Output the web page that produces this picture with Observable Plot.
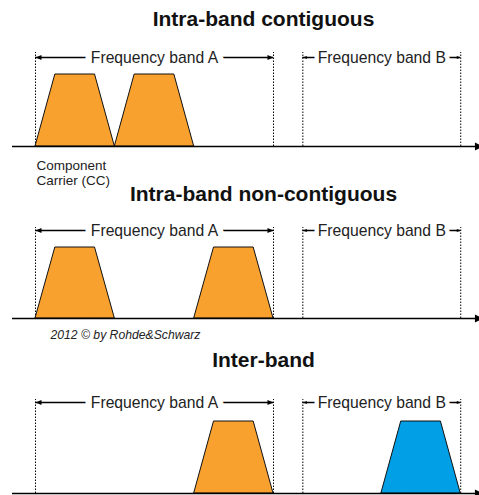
<!DOCTYPE html>
<html><head><meta charset="utf-8">
<script src="https://cdn.jsdelivr.net/npm/d3@7"></script>
<script src="https://cdn.jsdelivr.net/npm/@observablehq/plot@0.6"></script>
<style>
html,body{margin:0;padding:0;background:#fff;}
#chart{position:relative;width:479px;height:495px;background:#fff;}
</style></head><body><div id="chart"></div>
<script>
// ---- data (frequency unit = one component-carrier bandwidth) ----
const panelTitles = ["Intra-band contiguous", "Intra-band non-contiguous", "Inter-band"];
const bandIds = ["A", "B"];
const bandNames = ["Frequency band A", "Frequency band B"];
const bandStarts = [0, 3.37];
const bandEnds = [3, 5.36];
const carrierPanels = [0, 0, 1, 1, 2, 2];
const carrierStarts = [0, 1, 0, 2, 2, 4.36];
const carrierBands = ["A", "A", "A", "A", "A", "B"];
const carrierWidth = 1;
const carrierShapeX = [0, 0.25, 0.75, 1];   // fraction of carrier width
const carrierShapeY = [0, 1, 1, 0];         // relative amplitude
const ccLabel = "Component\nCarrier (CC)";
const creditLabel = "2012 © by Rohde&Schwarz";
const axisStart = -0.29, axisEnd = 5.64;

// ---- layout (pixels) ----
const W = 479;
const U = 238 / 3; // px per frequency unit
const xDomain = [-35 / U, (W - 35) / U];
const layout = [
  {top: 0,   height: 190, axisY: 146, peakY: 74,  titleY: 19,  arrowY: 57,  dotY: 52},
  {top: 190, height: 155, axisY: 318, peakY: 247, titleY: 194, arrowY: 230, dotY: 227},
  {top: 345, height: 150, axisY: 493, peakY: 421, titleY: 359.5, arrowY: 402, dotY: 399}
];
const headLen = [6, 4];
const haloW = [13, 9];
const colors = {A: "#F9A12F", B: "#009FE6"};
const font = "'Liberation Sans', Arial, Helvetica, sans-serif";

function makeHead(ratio) {
  return {draw(ctx, size) {
    const l = Math.sqrt(size / Math.PI);
    ctx.moveTo(0, 0); ctx.lineTo(-l, -l * ratio); ctx.lineTo(-l, l * ratio); ctx.closePath();
  }};
}

const chart = document.getElementById("chart");

layout.forEach((L, p) => {
  const toUnit = px => (L.axisY - px) / (L.axisY - L.peakY);
  const arrowLevel = toUnit(L.arrowY);
  const dotLevel = toUnit(L.dotY);
  const carriers = carrierStarts.map((s, i) => i).filter(i => carrierPanels[i] === p);
  const pts = carriers.flatMap(i => carrierShapeX.map((f, k) => ({
    id: i, band: carrierBands[i],
    x: carrierStarts[i] + f * carrierWidth, y: carrierShapeY[k]
  })));
  const edges = [...bandStarts, ...bandEnds];
  const marks = [
    Plot.ruleX(edges, {x: d => d, y1: 0, y2: dotLevel, stroke: "#000", strokeWidth: 1, strokeDasharray: "1.5,1.5"}),
    Plot.ruleY([0, 1], {y: arrowLevel, x1: i => bandStarts[i], x2: i => bandEnds[i], stroke: "#000", strokeWidth: 1.3}),
  ];
  bandIds.forEach((b, i) => {
    marks.push(Plot.text([i], {
      x: j => (bandStarts[j] + bandEnds[j]) / 2, y: arrowLevel, text: j => bandNames[j],
      fontSize: 15.7, fill: "#222", stroke: "white", strokeWidth: haloW[i], paintOrder: "stroke", lineAnchor: "middle"
    }));
    marks.push(Plot.dot([i], {x: j => bandStarts[j], y: arrowLevel, symbol: makeHead(0.4), r: headLen[i], rotate: 180, fill: "#000", stroke: "none"}));
    marks.push(Plot.dot([i], {x: j => bandEnds[j], y: arrowLevel, symbol: makeHead(0.4), r: headLen[i], rotate: 0, fill: "#000", stroke: "none"}));
  });
  marks.push(
    Plot.areaY(pts, {x: "x", y: "y", z: "id", fill: "band", stroke: "#111", strokeWidth: 1, curve: "linear"}),
    Plot.ruleY([0], {x1: axisStart, x2: axisEnd, stroke: "#000", strokeWidth: 1.7}),
    Plot.dot([axisEnd], {x: d => d, y: 0, symbol: makeHead(0.5), r: 8, fill: "#000", stroke: "none"}),
    Plot.text([panelTitles[p]], {
      frameAnchor: "top", dx: 263 - W / 2, dy: L.titleY - L.peakY, text: d => d,
      fontSize: 21, fontWeight: "bold", fill: "#111", lineAnchor: "middle"
    })
  );
  if (p === 0) {
    marks.push(Plot.text([ccLabel], {x: carrierStarts[0], y: 0, text: d => d, textAnchor: "start", lineAnchor: "top",
      dx: 1, dy: 12, fontSize: 13.5, lineHeight: 1.16, fill: "#222"}));
  }
  if (p === 1) {
    marks.push(Plot.text([creditLabel], {x: carrierStarts[2], y: 0, text: d => d, textAnchor: "start", lineAnchor: "top",
      dx: 15, dy: 12, fontSize: 12.2, fontStyle: "italic", fill: "#222"}));
  }
  const svg = Plot.plot({
    width: W, height: L.height,
    marginLeft: 0, marginRight: 0,
    marginTop: L.peakY - L.top, marginBottom: L.top + L.height - L.axisY,
    x: {domain: xDomain, axis: null},
    y: {domain: [0, 1], axis: null},
    color: {domain: bandIds, range: bandIds.map(b => colors[b])},
    style: {position: "absolute", left: "0px", top: L.top + "px", overflow: "visible", background: "transparent", fontFamily: font},
    marks
  });
  chart.appendChild(svg);
});
</script>
</body></html>
